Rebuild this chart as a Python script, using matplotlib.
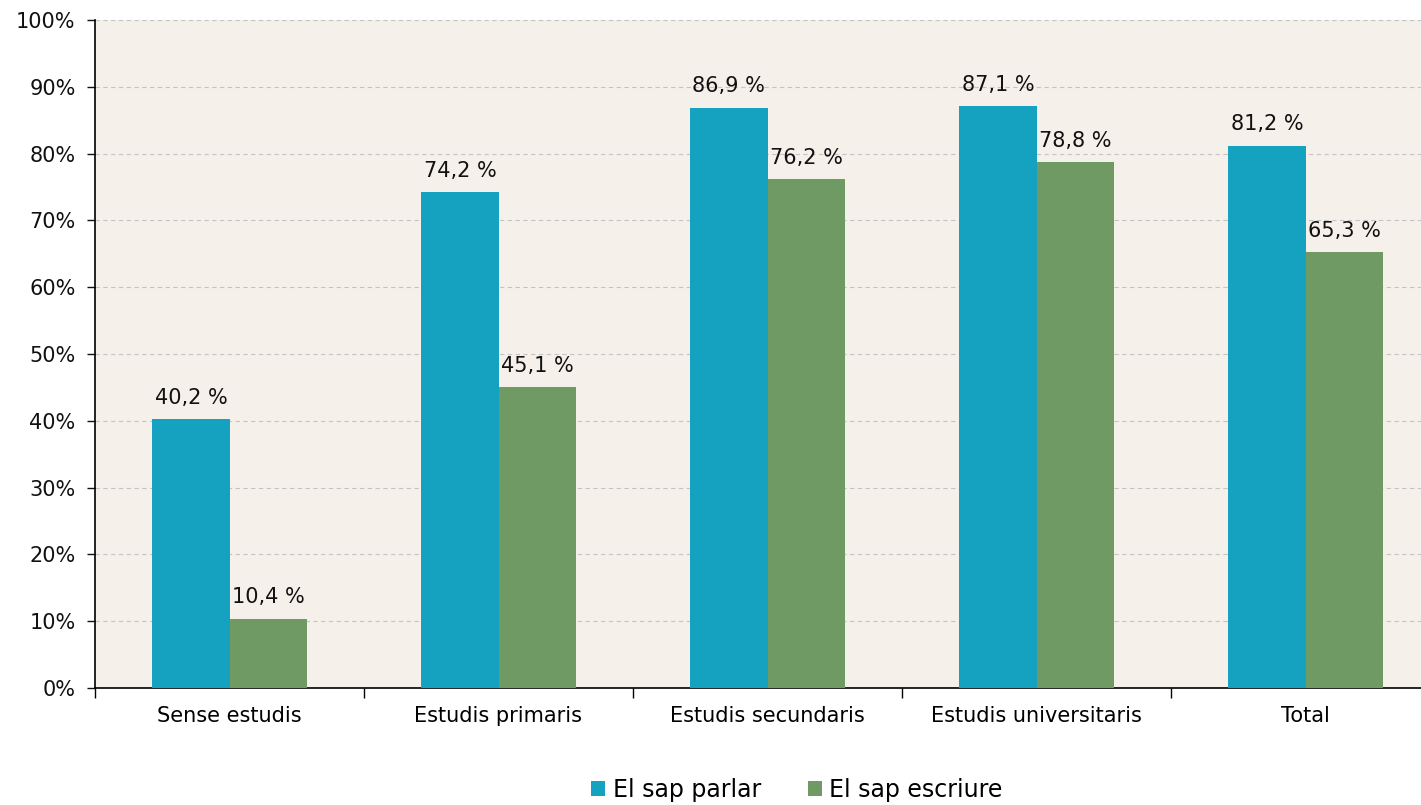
import numpy as np
import matplotlib.pyplot as plt
from matplotlib.ticker import FuncFormatter

# Dades
categories = ["Sense estudis", "Estudis primaris", "Estudis secundaris",
              "Estudis universitaris", "Total"]
parlar = [40.2, 74.2, 86.9, 87.1, 81.2]
escriure = [10.4, 45.1, 76.2, 78.8, 65.3]
series_names = ["El sap parlar", "El sap escriure"]

blue = "#14A2C0"
green = "#6F9A64"
bg = "#F5F0EA"

fig = plt.figure(figsize=(14.21, 8.05), dpi=100)
# l'eix es talla una mica per la dreta, com a l'original
ax = fig.add_axes([95 / 1421, 1 - 688 / 805, 1345 / 1421, 668 / 805])
ax.set_facecolor(bg)

x = np.arange(len(categories))
w = 0.287
b1 = ax.bar(x - w / 2, parlar, w, color=blue, label=series_names[0], zorder=3)
b2 = ax.bar(x + w / 2, escriure, w, color=green, label=series_names[1], zorder=3)

for bars in (b1, b2):
    for rect in bars:
        v = rect.get_height()
        ax.annotate(f"{v:.1f} %".replace(".", ","),
                    (rect.get_x() + rect.get_width() / 2, v),
                    xytext=(0, 8), textcoords="offset points",
                    ha="center", va="bottom", fontsize=15, color="#111111")

ax.set_xlim(-0.5, len(categories) - 0.5)
ax.set_ylim(0, 100)
ax.set_yticks(np.arange(0, 101, 10))
ax.yaxis.set_major_formatter(FuncFormatter(lambda v, p: f"{v:.0f}%"))
ax.set_xticks(x)
ax.set_xticklabels(categories, fontsize=15)
ax.set_xticks(np.arange(-0.5, len(categories), 1), minor=True)
ax.tick_params(axis="x", which="major", length=0, pad=13)
ax.tick_params(axis="x", which="minor", length=7, width=1)
ax.tick_params(axis="y", labelsize=15, length=6, width=1, pad=8, colors="#111111")

ax.grid(axis="y", linestyle=(0, (4, 3)), color="#C4C4C4", linewidth=0.8, zorder=0)
for s in ("top", "right"):
    ax.spines[s].set_visible(False)
ax.spines["left"].set_linewidth(1.2)
ax.spines["bottom"].set_linewidth(1.2)

fig.legend(loc="center", bbox_to_anchor=(797 / 1421, 1 - 790 / 805), ncol=2,
           frameon=False, fontsize=17, handlelength=0.6, handleheight=0.6,
           handletextpad=0.3, columnspacing=2.0)

fig.savefig("out.png", dpi=100)
